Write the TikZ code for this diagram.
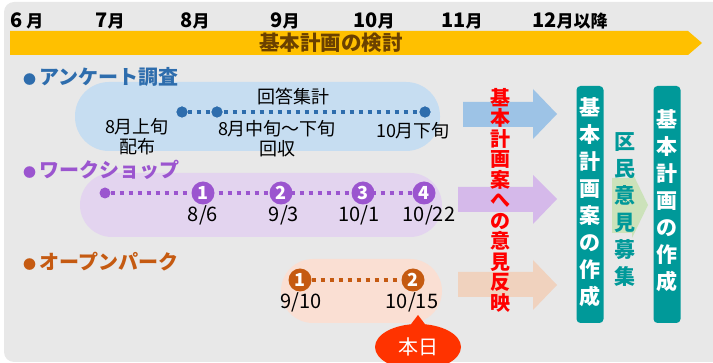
\documentclass[tikz,border=0pt]{standalone}
\usepackage{fontspec}
\setmainfont{Noto Sans CJK JP}
\usetikzlibrary{shapes.geometric,calc}
\definecolor{gris}{HTML}{E8E8E8}
\definecolor{amarillo}{HTML}{FFC000}
\definecolor{cafe}{HTML}{6B4100}
\definecolor{azul}{HTML}{2E6DAD}
\definecolor{celeste}{HTML}{C6DDF1}
\definecolor{flecha1}{HTML}{9DC3E6}
\definecolor{morado}{HTML}{9B55CF}
\definecolor{lila}{HTML}{E3D4EF}
\definecolor{flecha2}{HTML}{D5B9EA}
\definecolor{anaranjado}{HTML}{C55A11}
\definecolor{durazno}{HTML}{FADFD3}
\definecolor{flecha3}{HTML}{F0D2BE}
\definecolor{rojo}{HTML}{FF3300}
\definecolor{turquesa}{HTML}{009999}
\definecolor{pasto}{HTML}{C9E2B6}
\newcommand{\tsuki}[1]{{\fontsize{17}{17}\selectfont #1}}
\newcommand{\maru}{{\fontsize{13}{13}\selectfont ●}}

\begin{document}
\begin{tikzpicture}[x=1pt,y=-1pt,
  mes/.style={font=\bfseries\fontsize{20}{20}\selectfont,inner sep=0pt},
  titulo/.style={font=\bfseries\fontsize{20}{20}\selectfont,text=#1,inner sep=0pt,anchor=west},
  texto/.style={font=\fontsize{18}{20}\selectfont,inner sep=0pt,align=center},
  fecha/.style={font=\fontsize{20}{20}\selectfont,inner sep=0pt},
  punto/.style={circle,fill=#1,minimum size=11pt,inner sep=0pt},
  num/.style={circle,fill=#1,text=white,font=\bfseries\fontsize{18}{18}\selectfont,minimum size=23pt,inner sep=0pt},
  puntos/.style={draw=#1,line width=4pt,dash pattern=on 4pt off 5pt},
  tate/.style={align=center,inner sep=0pt,font=\bfseries\fontsize{21}{27}\selectfont},
  caja/.style={fill=turquesa,rounded corners=4pt,minimum width=27pt,minimum height=237pt,inner sep=0pt}]

  \useasboundingbox (0,0) rectangle (713,363);
  \clip (0,0) rectangle (713,363);
  \fill[gris,rounded corners=10pt] (4,2) rectangle (740,362);

  % meses
  \node[mes] (m6) at (27,21) {6\,\tsuki{月}};
  \node[mes] (m7) at (110,21) {7\tsuki{月}};
  \node[mes] (m8) at (195,21) {8\tsuki{月}};
  \node[mes] (m9) at (285,21) {9\tsuki{月}};
  \node[mes] (m10) at (374,21) {10\tsuki{月}};
  \node[mes] (m11) at (462,21) {11\tsuki{月}};
  \node[mes] (m12) at (570,21) {12\tsuki{月以降}};

  \fill[amarillo] (10,31) -- (688,31) -- (702,43) -- (688,55) -- (10,55) -- cycle;
  \node[font=\bfseries\fontsize{20.5}{20.5}\selectfont,text=cafe] (kento) at (331,43) {基本計画の検討};

  % fondos
  \fill[celeste,rounded corners=34pt] (75,82) rectangle (440,151);
  \fill[lila,rounded corners=32pt] (80,173) rectangle (442,237);
  \fill[durazno,rounded corners=32pt] (281,259) rectangle (442,323);

  % アンケート調査
  \node[titulo=azul] (t1) at (23,77) {\maru\,アンケート調査};
  \node[punto=azul] (a1) at (182,112) {};
  \node[punto=azul] (a2) at (217,112) {};
  \node[punto=azul] (a3) at (425,112) {};
  \draw[puntos=azul] (a1) -- (a3);
  \node[punto=azul] at (a1) {};
  \node[punto=azul] at (a2) {};
  \node[punto=azul] at (a3) {};
  \node[texto] (l1) at (137,137) {8月上旬\\配布};
  \node[texto] (l2) at (293,97) {回答集計};
  \node[texto] (l3) at (277,139) {8月中旬～下旬\\回収};
  \node[texto] (l4) at (413,131) {10月下旬};

  % ワークショップ
  \node[titulo=morado] (t2) at (23,170) {\maru\,ワークショップ};
  \node[punto=morado] (w0) at (105,193) {};
  \coordinate (w5) at (424,193);
  \draw[puntos=morado] (w0) -- (w5);
  \node[num=morado] (w1) at (203,193) {1};
  \node[num=morado] (w2) at (281,193) {2};
  \node[num=morado] (w3) at (363,193) {3};
  \node[num=morado] (w4) at (424,193) {4};
  \node[fecha] (f1) at (203,215) {8/6};
  \node[fecha] (f2) at (284,215) {9/3};
  \node[fecha] (f3) at (359,215) {10/1};
  \node[fecha] (f4) at (429,215) {10/22};

  % オープンパーク
  \node[titulo=anaranjado] (t3) at (23,262) {\maru\,オープンパーク};
  \node[num=anaranjado] (p1) at (300,280) {1};
  \node[num=anaranjado] (p2) at (413,280) {2};
  \draw[puntos=anaranjado] (p1) -- (p2);
  \node[fecha] (g1) at (301,302) {9/10};
  \node[fecha] (g2) at (412,302) {10/15};

  \node[ellipse,fill=rojo,minimum width=86pt,minimum height=46pt,inner sep=0pt] (hoy) at (418,347) {};
  \coordinate (pico) at (418,315);
  \fill[rojo] ($(hoy.north)+(-9,3)$) -- (pico) -- ($(hoy.north)+(9,3)$) -- cycle;
  \node[font=\fontsize{20}{20}\selectfont,text=white] at (hoy) {本日};

  % flechas
  \fill[flecha1] (463,102) -- (533,102) -- (533,89) -- (557,114) -- (533,139) -- (533,127) -- (463,127) -- cycle;
  \fill[flecha2] (458,187) -- (533,187) -- (533,175) -- (557,199) -- (533,224) -- (533,212) -- (458,212) -- cycle;
  \fill[flecha3] (458,272) -- (533,272) -- (533,260) -- (557,285) -- (533,310) -- (533,297) -- (458,297) -- cycle;

  \node[tate,text=red,font=\bfseries\fontsize{20}{20.5}\selectfont] (hanei) at (500,200)
    {基\\本\\計\\画\\案\\へ\\の\\意\\見\\反\\映};

  \node[caja] (an) at (590,204.5) {};
  \node[tate,text=white] at (590,202) {基\\本\\計\\画\\案\\の\\作\\成};

  \fill[pasto,opacity=0.9] (612,178) -- (632,178) -- (632,172) -- (648,205) -- (632,238) -- (632,233) -- (612,233) -- cycle;
  \node[tate,text=turquesa] (iken) at (625,210) {区\\民\\意\\見\\募\\集};

  \node[caja] (keikaku) at (667,204.5) {};
  \node[tate,text=white] at (667,201) {基\\本\\計\\画\\の\\作\\成};

\end{tikzpicture}
\end{document}
